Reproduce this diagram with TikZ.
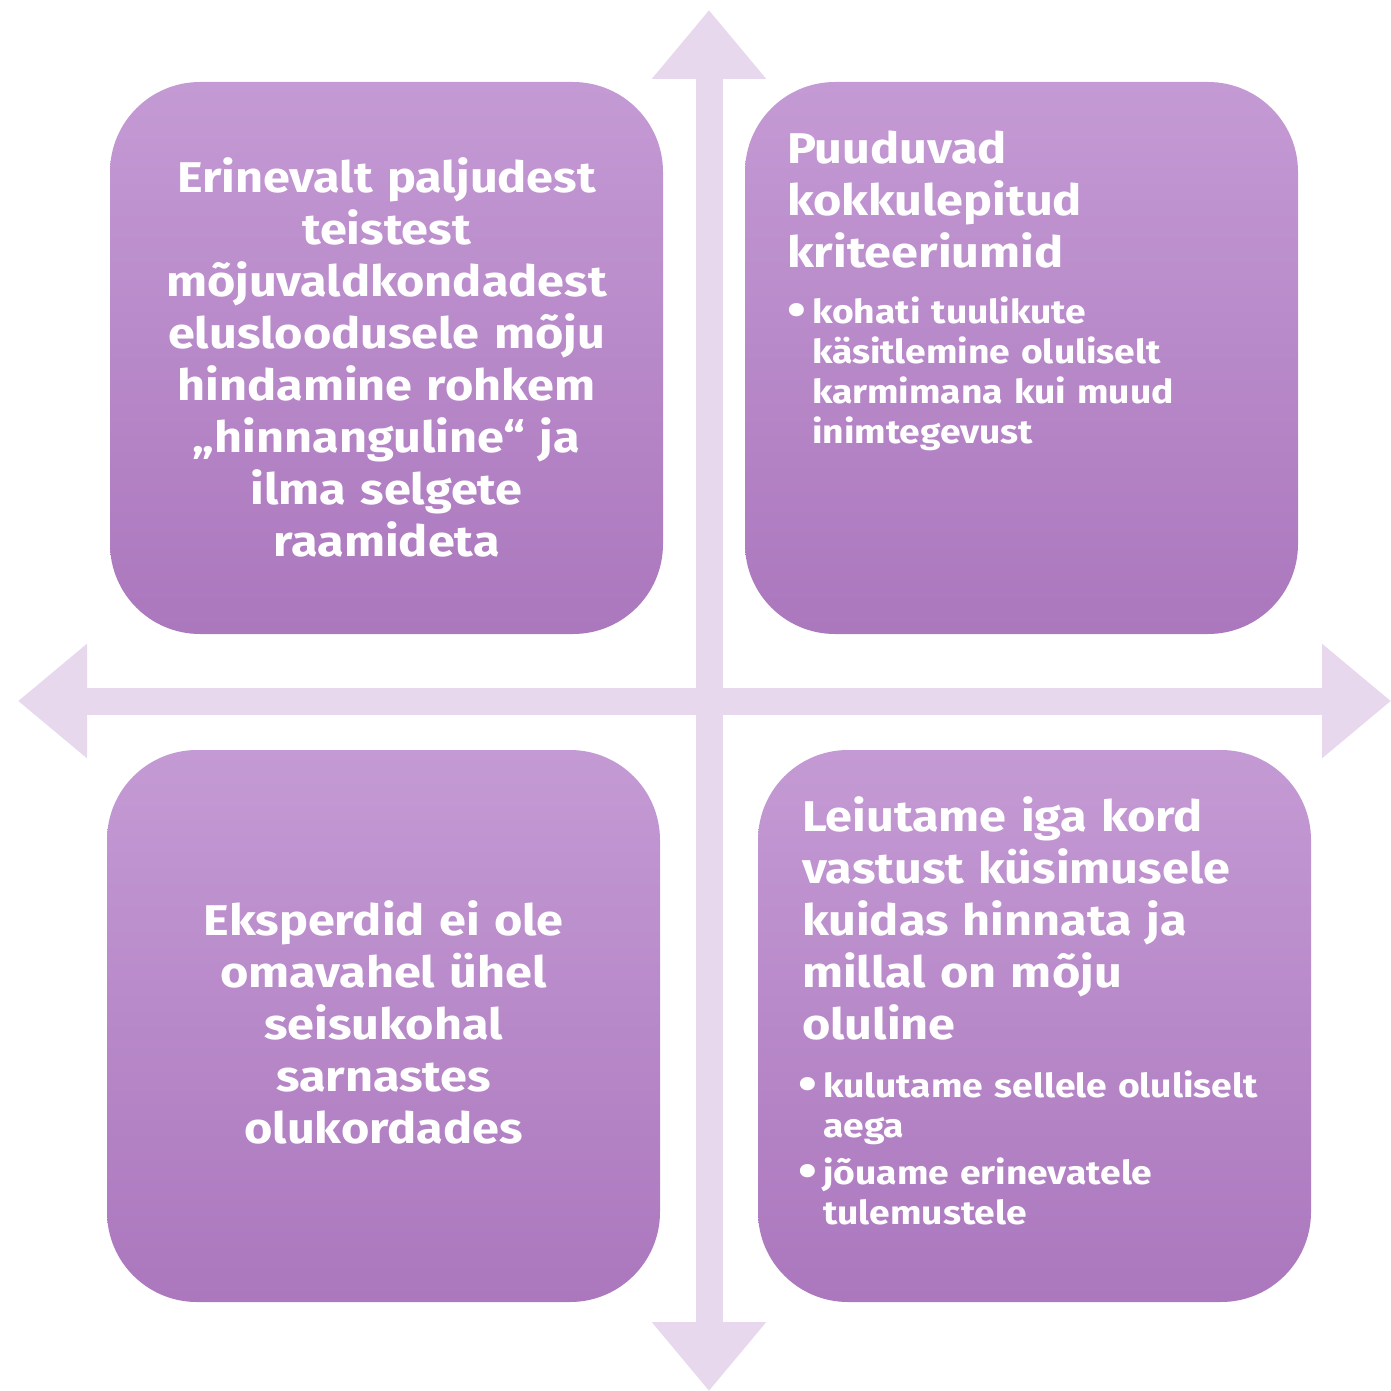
\documentclass[tikz,border=0pt]{standalone}
\usepackage{fontspec}
\setmainfont{Fira Sans}[FakeStretch=1.13]
\usepackage{tikz}
\usetikzlibrary{calc,arrows.meta}
\definecolor{kasttop}{RGB}{196,154,212}
\definecolor{kastpohi}{RGB}{171,119,189}
\definecolor{nooltoon}{RGB}{231,216,237}
\newcommand{\punkt}{\makebox[25pt][l]{\hspace{0pt}\raisebox{-2.5pt}{\scalebox{1.45}{•}}}}
\newcommand{\taane}{\hspace*{25pt}}

\begin{document}
\begin{tikzpicture}[x=1pt,y=-1pt]
	\tikzstyle{kast}=[rectangle,rounded corners=90pt,top color=kasttop,bottom color=kastpohi,minimum width=553pt,minimum height=552pt,inner sep=0pt];
	\tikzstyle{suur}=[text=white,inner sep=0pt,font=\bfseries\fontsize{43}{52}\selectfont];
	\tikzstyle{vaike}=[text=white,inner sep=0pt,font=\bfseries\fontsize{33}{40}\selectfont];
	\tikzstyle{nool}=[nooltoon,line width=27pt,{Triangle[length=69pt,width=110pt]}-{Triangle[length=69pt,width=110pt]}];
	\useasboundingbox (0,0) rectangle (1390,1391);
	\coordinate (ules)  at (709,10);
	\coordinate (alla)  at (709,1391);
	\coordinate (vasak) at (18,701);
	\coordinate (parem) at (1391,701);
	\draw[nool] (ules) -- (alla);
	\draw[nool] (vasak) -- (parem);
	\node[kast] (vu) at (386.5,358)  {};
	\node[kast] (pu) at (1021.5,358) {};
	\node[kast] (va) at (383.5,1026) {};
	\node[kast] (pa) at (1034.5,1026) {};
	\node[suur,text width=553pt,align=center,anchor=base] (vutekst) at ($(vu.north)+(0,111)$)
		{Erinevalt paljudest\\teistest\\mõjuvaldkondadest\\elusloodusele mõju\\hindamine rohkem\\„hinnanguline“ ja\\ilma selgete\\raamideta};
	\node[suur,text width=480pt,align=left,anchor=base west] (pupealkiri) at ($(pu.north west)+(42,82)$)
		{Puuduvad\\kokkulepitud\\kriteeriumid};
	\node[vaike,text width=500pt,align=left,anchor=base west] (pupunktid) at ($(pu.north west)+(42,242)$)
		{\punkt kohati tuulikute\\\taane käsitlemine oluliselt\\\taane karmimana kui muud\\\taane inimtegevust};
	\node[suur,text width=553pt,align=center,anchor=base] (vatekst) at ($(va.north)+(0,186)$)
		{Eksperdid ei ole\\omavahel ühel\\seisukohal\\sarnastes\\olukordades};
	\node[suur,text width=480pt,align=left,anchor=base west] (papealkiri) at ($(pa.north west)+(44,82)$)
		{Leiutame iga kord\\vastust küsimusele\\kuidas hinnata ja\\millal on mõju\\oluline};
	\node[vaike,text width=500pt,align=left,anchor=base west] (papunktid) at ($(pa.north west)+(40,348)$)
		{\punkt kulutame sellele oluliselt\\\taane aega\\[7pt]\punkt jõuame erinevatele\\\taane tulemustele};
\end{tikzpicture}
\end{document}
